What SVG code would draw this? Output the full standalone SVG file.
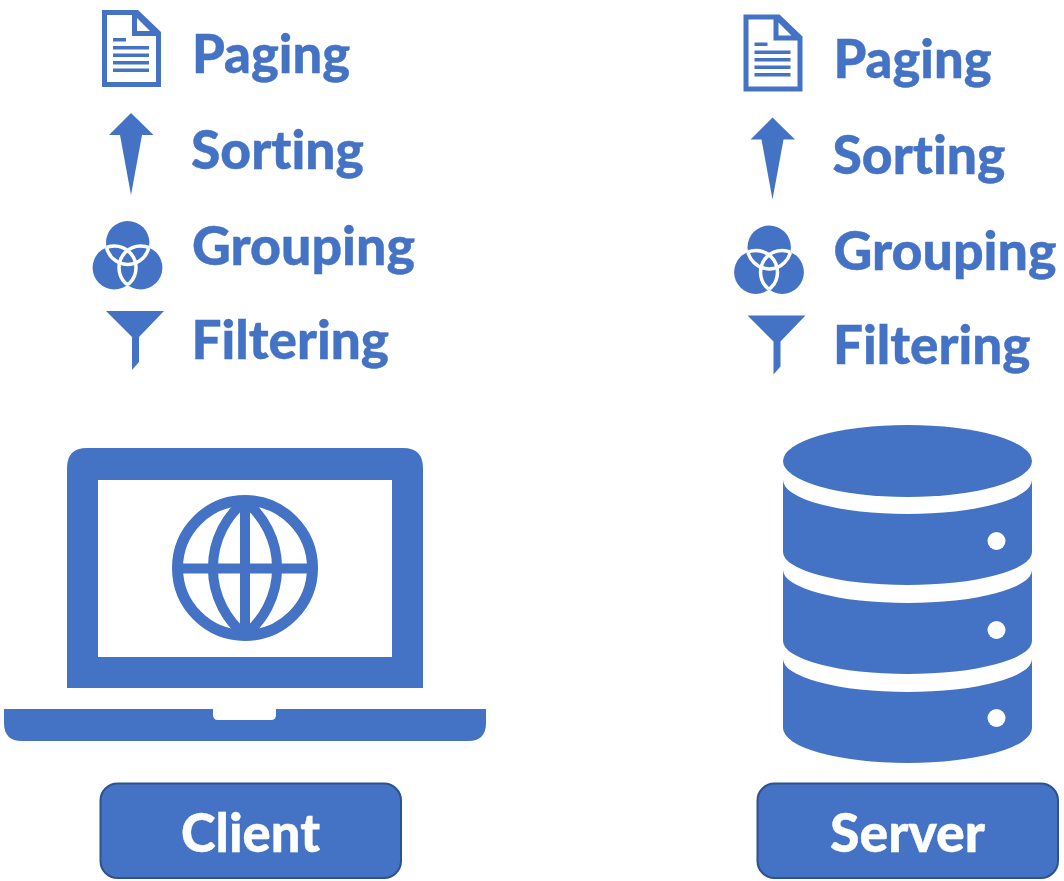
<svg xmlns="http://www.w3.org/2000/svg" width="1064" height="881" viewBox="0 0 1064 881">
<style>
.f{fill:#4472c4}
text{font-family:Lato,"Liberation Sans",sans-serif;font-weight:900;font-size:53px;font-variant-ligatures:none;stroke-width:.4}
.l{fill:#4472c4;stroke:#4472c4}
.b{fill:#4472c4;stroke:#2f528f;stroke-width:2}
.t{fill:#fff;stroke:#fff}
.w{fill:none;stroke:#fff;stroke-width:3.500}
</style>
<defs>
<clipPath id="notTop"><circle cx="114.300" cy="267.700" r="21.700"/><circle cx="140.700" cy="267.700" r="21.700"/></clipPath>
<clipPath id="notLeft"><circle cx="127.700" cy="242.700" r="21.700"/><circle cx="140.700" cy="267.700" r="21.700"/></clipPath>
<clipPath id="notRight"><circle cx="127.700" cy="242.700" r="21.700"/><circle cx="114.300" cy="267.700" r="21.700"/></clipPath>
<g id="icons">
<path class="f" fill-rule="evenodd" d="M102 10H138L161 32V87H102ZM107 15V82H156V36H132V15ZM137 18V31H150Z"/>
<path class="f" d="M113 38h13v3.500h-13zM113 46h36v3.500h-36zM113 53.500h36v3.500h-36zM113 61h36v3.500h-36zM113 68.500h36v3.500h-36z"/>
<path class="f" d="M131 113L153.500 135H142L131 195L120 135H109Z"/>
<circle class="f" cx="127.700" cy="242.700" r="21.700"/>
<circle class="f" cx="114.300" cy="267.700" r="21.700"/>
<circle class="f" cx="140.700" cy="267.700" r="21.700"/>
<circle class="w" cx="127.700" cy="242.700" r="21.700" clip-path="url(#notTop)"/>
<circle class="w" cx="114.300" cy="267.700" r="21.700" clip-path="url(#notLeft)"/>
<circle class="w" cx="140.700" cy="267.700" r="21.700" clip-path="url(#notRight)"/>
<path class="f" d="M106 311H164L139 337V362L132 370V337Z"/>
</g>
</defs>
<g id="client-operations">
<use href="#icons"/>
<text class="l" x="192" y="73" textLength="158" lengthAdjust="spacingAndGlyphs">Paging</text>
<text class="l" x="191" y="169" textLength="173" lengthAdjust="spacingAndGlyphs">Sorting</text>
<text class="l" x="192" y="265" textLength="223" lengthAdjust="spacingAndGlyphs">Grouping</text>
<text class="l" x="191.500" y="359" textLength="197.500" lengthAdjust="spacingAndGlyphs">Filtering</text>
</g>
<g id="server-operations">
<use href="#icons" x="641.500" y="4.500"/>
<text class="l" x="833.500" y="77.500" textLength="158" lengthAdjust="spacingAndGlyphs">Paging</text>
<text class="l" x="832.500" y="173.500" textLength="173" lengthAdjust="spacingAndGlyphs">Sorting</text>
<text class="l" x="833.500" y="269.500" textLength="223" lengthAdjust="spacingAndGlyphs">Grouping</text>
<text class="l" x="833" y="363.500" textLength="197.500" lengthAdjust="spacingAndGlyphs">Filtering</text>
</g>
<g id="laptop">
<path class="f" fill-rule="evenodd" d="M67 688V468Q67 448 87 448H403Q423 448 423 468V688ZM98 480V657H392V480Z"/>
<circle cx="245" cy="568" r="67.500" fill="none" stroke="#4472c4" stroke-width="11"/>
<path fill="none" stroke="#4472c4" stroke-width="10" stroke-linejoin="bevel" d="M245 501A86 86 0 0 1 245 635A86 86 0 0 1 245 501ZM245 501V635M177 568.500H313"/>
<path class="f" d="M4 709H213V715Q213 720 218 720H271Q276 720 276 715V709H486V723Q486 741 468 741H22Q4 741 4 723Z"/>
</g>
<g id="database">
<ellipse class="f" cx="907.500" cy="461" rx="124.500" ry="36"/>
<path class="f" d="M783 480A124.500 34 0 0 0 1032 480V552A124.500 33 0 0 1 783 552Z"/>
<path class="f" d="M783 570A124.500 33 0 0 0 1032 570V641A124.500 33 0 0 1 783 641Z"/>
<path class="f" d="M783 659A124.500 33 0 0 0 1032 659V728A124.500 35 0 0 1 783 728Z"/>
<circle cx="996.500" cy="541" r="9" fill="#fff"/>
<circle cx="996.500" cy="630" r="9" fill="#fff"/>
<circle cx="996.500" cy="718" r="9" fill="#fff"/>
</g>
<g id="client">
<rect class="b" x="100.500" y="783.500" width="300.500" height="94.500" rx="17"/>
<text class="t" x="181" y="852" textLength="139" lengthAdjust="spacingAndGlyphs">Client</text>
</g>
<g id="server">
<rect class="b" x="757.500" y="783.500" width="300.500" height="94.500" rx="17"/>
<text class="t" x="830" y="852" textLength="155" lengthAdjust="spacingAndGlyphs">Server</text>
</g>
<g id="connectors"/>
</svg>
